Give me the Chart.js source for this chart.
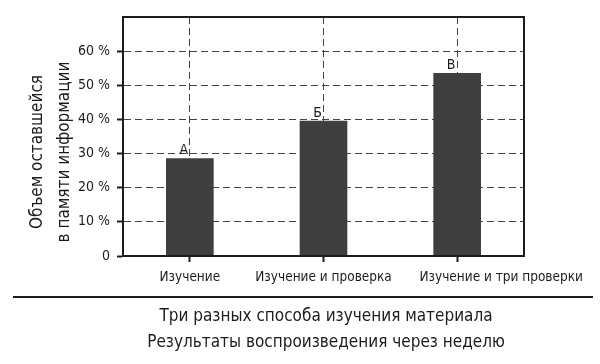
<!DOCTYPE html>
<html lang="ru">
<head>
<meta charset="UTF-8">
<title>Объем оставшейся в памяти информации</title>
<script src="https://cdn.jsdelivr.net/npm/chart.js"></script>
<style>
  body { margin: 0; background: #fff; }
  #wrap { width: 600px; height: 364px; }
</style>
</head>
<body>
<div id="wrap"><canvas id="memoryChart"></canvas></div>
<script>
// data
const categories = ['Изучение', 'Изучение и проверка', 'Изучение и три проверки'];
const retained = [28.5, 39.5, 53.5];
const barLetters = ['А', 'Б', 'В'];
const yTitleLines = ['Объем оставшейся', 'в памяти информации'];
const captionLines = ['Три разных способа изучения материала', 'Результаты воспроизведения через неделю'];

const FONT = "'Liberation Sans Narrow', 'DejaVu Sans Condensed', sans-serif";
const INK = '#1c1c1c';
const GRID = '#444';
const labelShift = [0, 0, 44];

// рамка, буквы над столбиками, подписи категорий, заголовки
const decor = {
    id: 'decor',
    afterDraw(chart) {
        const ctx = chart.ctx;
        const a = chart.chartArea;
        ctx.save();
        ctx.fillStyle = INK;
        ctx.strokeStyle = INK;

        // frame
        ctx.lineWidth = 2;
        ctx.setLineDash([]);
        ctx.strokeRect(a.left, a.top, a.right - a.left, a.bottom - a.top);

        // letters above bars
        ctx.font = '14px ' + FONT;
        ctx.textAlign = 'center';
        ctx.textBaseline = 'bottom';
        chart.getDatasetMeta(0).data.forEach((bar, i) => {
            ctx.fillText(barLetters[i], bar.x - 6, bar.y - 1);
        });

        // category labels
        const xs = chart.scales.x;
        ctx.font = '13.5px ' + FONT;
        ctx.textBaseline = 'middle';
        categories.forEach((c, i) => {
            ctx.fillText(c, xs.getPixelForTick(i) + labelShift[i], 277);
        });

        // y title (rotated, two lines)
        ctx.font = '17px ' + FONT;
        ctx.textBaseline = 'alphabetic';
        [42, 69].forEach((x, i) => {
            ctx.save();
            ctx.translate(x, 152);
            ctx.rotate(-Math.PI / 2);
            ctx.fillText(yTitleLines[i], 0, 0);
            ctx.restore();
        });

        // rule + captions
        ctx.lineWidth = 2;
        ctx.beginPath();
        ctx.moveTo(13, 297);
        ctx.lineTo(593, 297);
        ctx.stroke();

        ctx.font = '17px ' + FONT;
        ctx.textBaseline = 'middle';
        ctx.fillText(captionLines[0], 326, 317);
        ctx.fillText(captionLines[1], 326, 343);
        ctx.restore();
    }
};

const ctxMem = document.getElementById('memoryChart').getContext('2d');
new Chart(ctxMem, {
    type: 'bar',
    data: {
        labels: categories,
        datasets: [{
            data: retained,
            backgroundColor: '#3f3f3f',
            barThickness: 47
        }]
    },
    options: {
        responsive: true,
        maintainAspectRatio: false,
        animation: false,
        layout: { padding: { top: 17, right: 76, left: 0, bottom: 0 } },
        plugins: {
            legend: { display: false },
            tooltip: { enabled: false }
        },
        scales: {
            x: {
                afterFit: s => { s.height = 108; },
                grid: {
                    offset: false,
                    color: GRID,
                    lineWidth: 1,
                    tickLength: 6,
                    tickColor: INK,
                    tickWidth: 2
                },
                border: { display: true, color: INK, width: 2, dash: [7, 4] },
                ticks: { display: false }
            },
            y: {
                min: 0,
                max: 70,
                afterFit: s => { s.width = 123; },
                ticks: {
                    stepSize: 10,
                    padding: 7,
                    color: INK,
                    font: { family: FONT, size: 14 },
                    callback: v => v === 70 ? '' : (v === 0 ? '0' : v + ' %')
                },
                grid: {
                    color: ctx => (ctx.tick && ctx.tick.value === 70) ? 'rgba(0,0,0,0)' : GRID,
                    lineWidth: 1,
                    tickLength: 6,
                    tickColor: ctx => (ctx.tick && ctx.tick.value === 70) ? 'rgba(0,0,0,0)' : INK,
                    tickWidth: 2
                },
                border: { display: true, color: INK, width: 2, dash: [7, 4] }
            }
        }
    },
    plugins: [decor]
});
</script>
</body>
</html>
